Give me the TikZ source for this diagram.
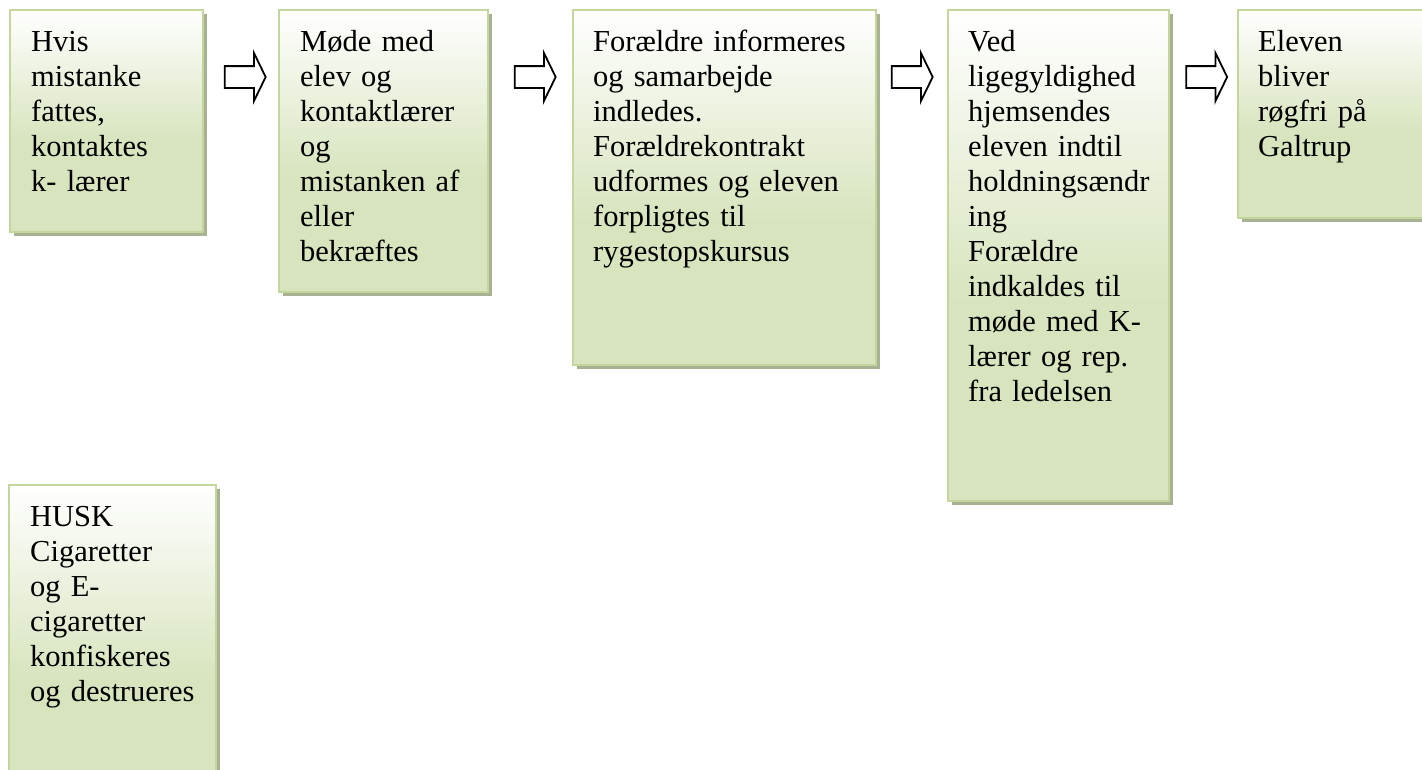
\documentclass[tikz,border=0pt]{standalone}
\usepackage{fontspec}
\setmainfont{Liberation Serif}
\usetikzlibrary{shapes.arrows,shadows}
\definecolor{boxbg}{HTML}{D7E4BD}
\definecolor{boxborder}{HTML}{C3D69B}
\definecolor{boxshadow}{HTML}{A8B292}
\pgfdeclareverticalshading{boxshade}{100bp}{color(0bp)=(boxbg); color(45bp)=(boxbg); color(75bp)=(white); color(100bp)=(white)}
\begin{document}
\begin{tikzpicture}[x=1pt,y=1pt,
  stepbox/.style={rectangle, draw=boxborder, line width=2.5pt, shade, shading=boxshade,
    drop shadow={shadow xshift=4pt, shadow yshift=-4pt, fill=boxshadow, opacity=1},
    inner sep=0pt, outer sep=0pt, anchor=north west},
  boxtext/.style={anchor=north west, inner sep=0pt, align=left, text width=300pt,
    font=\fontsize{30.5pt}{35pt}\selectfont},
  flowarrow/.style={single arrow, draw=black, fill=white, line width=1.8pt, inner xsep=0pt,
    inner ysep=10pt, minimum height=41pt, single arrow head extend=13pt,
    single arrow tip angle=128, anchor=center}
]
\useasboundingbox (0,0) rectangle (1422,-769);
\clip (0,0) rectangle (1422,-769);

\node[stepbox, minimum width=193pt, minimum height=222pt] (b1) at (10,-10) {};
\node[stepbox, minimum width=209pt, minimum height=282pt] (b2) at (279,-10) {};
\node[stepbox, minimum width=303pt, minimum height=355pt] (b3) at (573,-10) {};
\node[stepbox, minimum width=221pt, minimum height=491pt] (b4) at (948,-10) {};
\node[stepbox, minimum width=250pt, minimum height=208pt] (b5) at (1238,-10) {};
\node[stepbox, minimum width=207pt, minimum height=330pt] (b6) at (9,-485) {};

\node[boxtext] (t1) at ([xshift=21pt,yshift=-13pt]b1.north west)
  {\rule{0pt}{28pt}Hvis\\ mistanke\\ fattes,\\ kontaktes\\ k- lærer};
\node[boxtext] (t2) at ([xshift=21pt,yshift=-13pt]b2.north west)
  {\rule{0pt}{28pt}Møde med\\ elev og\\ kontaktlærer\\ og\\ mistanken af\\ eller\\ bekræftes};
\node[boxtext] (t3) at ([xshift=20pt,yshift=-13pt]b3.north west)
  {\rule{0pt}{28pt}Forældre informeres\\ og samarbejde\\ indledes.\\ Forældrekontrakt\\ udformes og eleven\\ forpligtes til\\ rygestopskursus};
\node[boxtext] (t4) at ([xshift=20pt,yshift=-13pt]b4.north west)
  {\rule{0pt}{28pt}Ved\\ ligegyldighed\\ hjemsendes\\ eleven indtil\\ holdningsændr\\ ing\\ Forældre\\ indkaldes til\\ møde med K-\\ lærer og rep.\\ fra ledelsen};
\node[boxtext] (t5) at ([xshift=20pt,yshift=-13pt]b5.north west)
  {\rule{0pt}{28pt}Eleven\\ bliver\\ røgfri på\\ Galtrup};
\node[boxtext] (t6) at ([xshift=21pt,yshift=-13pt]b6.north west)
  {\rule{0pt}{28pt}HUSK\\ Cigaretter\\ og E-\\ cigaretter\\ konfiskeres\\ og destrueres};

\node[flowarrow] (a1) at (242.5,-77) {};
\node[flowarrow] (a2) at (532.5,-77) {};
\node[flowarrow] (a3) at (909.5,-77) {};
\node[flowarrow] (a4) at (1204,-77) {};
\end{tikzpicture}
\end{document}
